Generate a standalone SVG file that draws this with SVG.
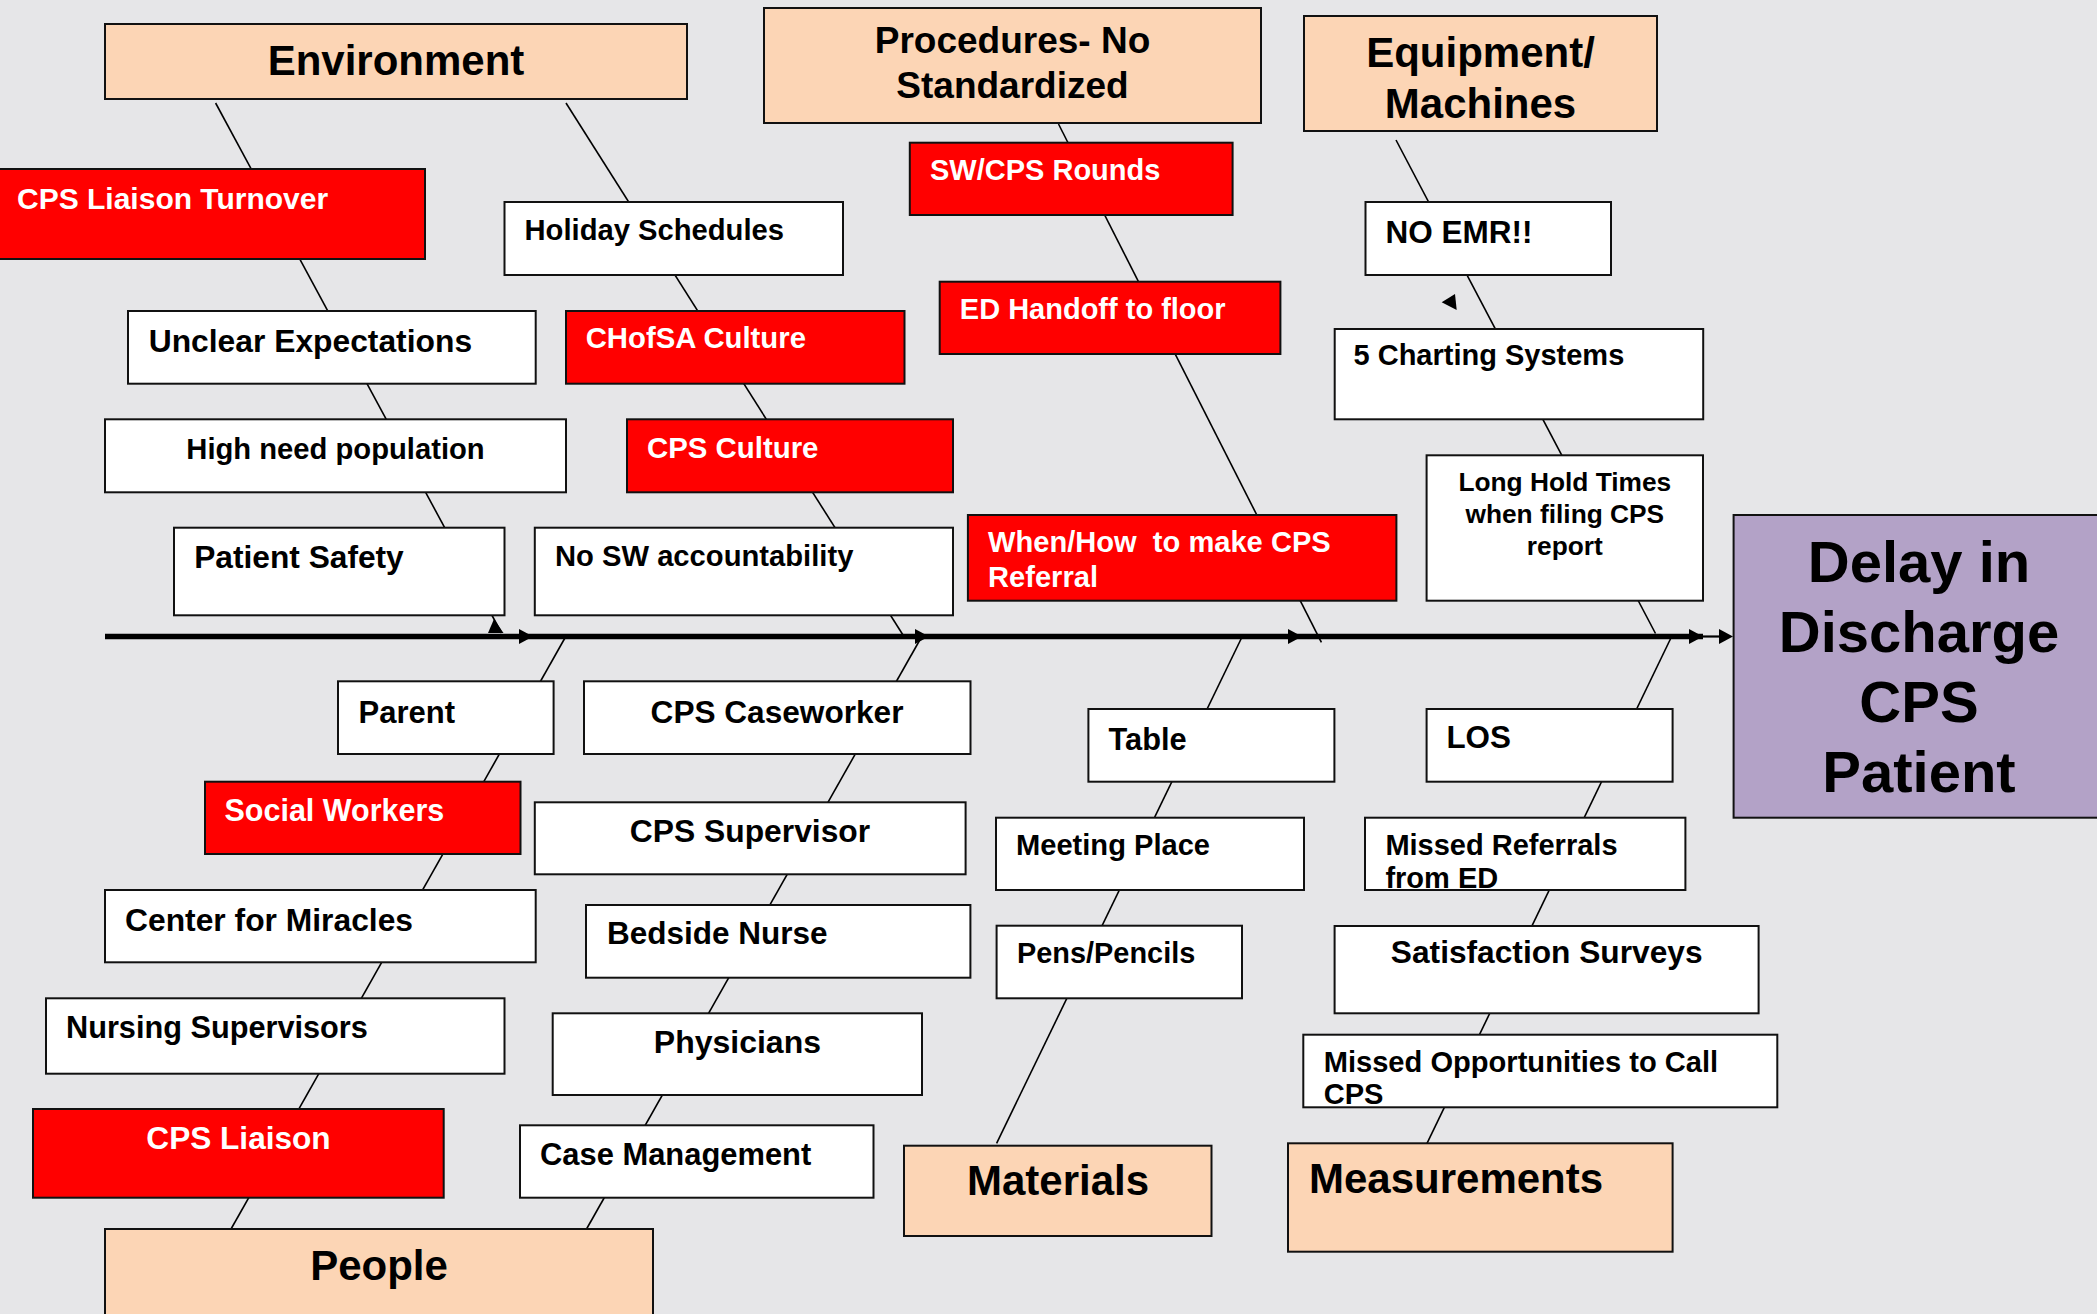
<svg xmlns="http://www.w3.org/2000/svg" width="2097" height="1314" viewBox="0 0 2097 1314">
<style>
  text { font-family: "Liberation Sans", Arial, sans-serif; font-weight: bold; }
  .box { stroke: #111; stroke-width: 2; }
  .w { fill: #FFFFFF; }
  .r { fill: #FF0000; }
  .p { fill: #FCD5B5; }
  .v { fill: #B3A2C7; }
  .tb { fill: #000; }
  .tw { fill: #FFF; }
  .c { text-anchor: middle; }
  .bone { stroke: #000; stroke-width: 1.6; fill: none; }
  .spine { stroke: #000; stroke-width: 5.5; }
  .head { fill: #000; }
</style>
<rect x="0" y="0" width="2097" height="1314" fill="#E6E6E8"/>

<g id="connectors">
  <line class="bone" x1="215.6" y1="103" x2="501.5" y2="633"/>
  <line class="bone" x1="566" y1="103" x2="903" y2="635"/>
  <line class="bone" x1="1058.5" y1="124" x2="1321.4" y2="642.3"/>
  <line class="bone" x1="1396" y1="140" x2="1655.5" y2="633.5"/>
  <line class="bone" x1="565.5" y1="637" x2="228.5" y2="1233.5"/>
  <line class="bone" x1="921.5" y1="637" x2="584" y2="1233.5"/>
  <line class="bone" x1="1242" y1="637" x2="996.6" y2="1143.3"/>
  <line class="bone" x1="1671.4" y1="637" x2="1427" y2="1143.3"/>
  <line class="spine" x1="105" y1="636.5" x2="1703" y2="636.5"/>
  <line class="bone" x1="1700" y1="636.5" x2="1722" y2="636.5" style="stroke-width:2.2"/>
  <polygon class="head" points="519,629 533,636.5 519,644"/>
  <polygon class="head" points="915,629 929,636.5 915,644"/>
  <polygon class="head" points="1288,629 1302,636.5 1288,644"/>
  <polygon class="head" points="1689,629 1703,636.5 1689,644"/>
  <polygon class="head" points="1719,629 1733,636.5 1719,644"/>
  <polygon class="head" points="488,633 503.5,633 494,619"/>
  <polygon class="head" points="1441.7,302.3 1455,294 1456.7,310"/>
</g>

<g id="environment">
  <rect class="box p" x="105" y="24" width="582" height="75"/>
  <text class="tb c" x="396" y="75" font-size="42">Environment</text>
</g>
<g id="procedures">
  <rect class="box p" x="764" y="8" width="497" height="115"/>
  <text class="tb c" x="1012.5" y="53" font-size="37">Procedures- No</text>
  <text class="tb c" x="1012.5" y="98" font-size="37">Standardized</text>
</g>
<g id="equipment">
  <rect class="box p" x="1304" y="16" width="353" height="115"/>
  <text class="tb c" x="1480.5" y="67" font-size="42">Equipment/</text>
  <text class="tb c" x="1480.5" y="118" font-size="42">Machines</text>
</g>
<g id="delay">
  <rect class="box v" x="1733.6" y="515" width="380" height="302.7"/>
  <text class="tb c" x="1919" y="581.7" font-size="58">Delay in</text>
  <text class="tb c" x="1919" y="651.7" font-size="58">Discharge</text>
  <text class="tb c" x="1919" y="721.7" font-size="58">CPS</text>
  <text class="tb c" x="1919" y="792" font-size="58">Patient</text>
</g>
<g id="people">
  <rect class="box p" x="105" y="1229" width="548" height="100"/>
  <text class="tb c" x="379" y="1280" font-size="42">People</text>
</g>
<g id="materials">
  <rect class="box p" x="904" y="1145.7" width="307.5" height="90.3"/>
  <text class="tb c" x="1058" y="1195" font-size="42">Materials</text>
</g>
<g id="measurements">
  <rect class="box p" x="1288" y="1143.3" width="384.6" height="108.4"/>
  <text class="tb" x="1309" y="1193.3" font-size="42">Measurements</text>
</g>

<g id="cps-liaison-turnover">
  <rect class="box r" x="-5" y="169" width="430" height="90"/>
  <text class="tw" x="17" y="209.3" font-size="30">CPS Liaison Turnover</text>
</g>
<g id="holiday-schedules">
  <rect class="box w" x="504.5" y="202" width="338.5" height="73"/>
  <text class="tb" x="524.5" y="240" font-size="29.2">Holiday Schedules</text>
</g>
<g id="unclear-expectations">
  <rect class="box w" x="128" y="311" width="407.7" height="72.7"/>
  <text class="tb" x="148.7" y="351.7" font-size="31.8">Unclear Expectations</text>
</g>
<g id="chofsa-culture">
  <rect class="box r" x="566" y="311" width="338.5" height="72.7"/>
  <text class="tw" x="585.7" y="348" font-size="29.3">CHofSA Culture</text>
</g>
<g id="high-need-population">
  <rect class="box w" x="105" y="419.3" width="461" height="73"/>
  <text class="tb c" x="335.5" y="458.5" font-size="29.2">High need population</text>
</g>
<g id="cps-culture">
  <rect class="box r" x="627" y="419.3" width="326" height="73"/>
  <text class="tw" x="647" y="458" font-size="29.4">CPS Culture</text>
</g>
<g id="patient-safety">
  <rect class="box w" x="174" y="527.7" width="330.5" height="87.6"/>
  <text class="tb" x="194.2" y="568.3" font-size="31.7">Patient Safety</text>
</g>
<g id="no-sw-accountability">
  <rect class="box w" x="534.8" y="527.7" width="418.2" height="87.6"/>
  <text class="tb" x="555" y="566" font-size="29.2">No SW accountability</text>
</g>
<g id="sw-cps-rounds">
  <rect class="box r" x="909.8" y="142.7" width="322.8" height="72.3"/>
  <text class="tw" x="930" y="180" font-size="29">SW/CPS Rounds</text>
</g>
<g id="ed-handoff">
  <rect class="box r" x="939.7" y="281.7" width="340.7" height="72.3"/>
  <text class="tw" x="959.8" y="319.3" font-size="29">ED Handoff to floor</text>
</g>
<g id="when-how">
  <rect class="box r" x="967.9" y="515" width="428.5" height="85.7"/>
  <text class="tw" x="988" y="551.7" font-size="29.1" xml:space="preserve">When/How  to make CPS</text>
  <text class="tw" x="988" y="587.3" font-size="29.1">Referral</text>
</g>
<g id="no-emr">
  <rect class="box w" x="1365.5" y="202" width="245.5" height="73"/>
  <text class="tb" x="1385.5" y="243" font-size="31.5">NO EMR!!</text>
</g>
<g id="charting-systems">
  <rect class="box w" x="1334.7" y="329" width="368.5" height="90.3"/>
  <text class="tb" x="1353.5" y="365" font-size="29">5 Charting Systems</text>
</g>
<g id="long-hold-times">
  <rect class="box w" x="1426.6" y="455.3" width="276.4" height="145.4"/>
  <text class="tb c" x="1564.8" y="490.7" font-size="26.3">Long Hold Times</text>
  <text class="tb c" x="1564.8" y="522.7" font-size="26.3">when filing CPS</text>
  <text class="tb c" x="1564.8" y="555" font-size="26.3">report</text>
</g>

<g id="parent">
  <rect class="box w" x="338" y="681.3" width="215.6" height="72.7"/>
  <text class="tb" x="358.5" y="722.7" font-size="31">Parent</text>
</g>
<g id="cps-caseworker">
  <rect class="box w" x="584" y="681.3" width="386.5" height="72.7"/>
  <text class="tb c" x="777" y="722.7" font-size="31.6">CPS Caseworker</text>
</g>
<g id="social-workers">
  <rect class="box r" x="205" y="781.7" width="315.5" height="72.3"/>
  <text class="tw" x="224.5" y="820.7" font-size="30.5">Social Workers</text>
</g>
<g id="cps-supervisor">
  <rect class="box w" x="534.8" y="802.3" width="430.8" height="72"/>
  <text class="tb c" x="750" y="841.7" font-size="31.8">CPS Supervisor</text>
</g>
<g id="center-for-miracles">
  <rect class="box w" x="105" y="890" width="430.7" height="72.3"/>
  <text class="tb" x="125" y="930.7" font-size="31.8">Center for Miracles</text>
</g>
<g id="bedside-nurse">
  <rect class="box w" x="586" y="905" width="384.4" height="72.7"/>
  <text class="tb" x="607" y="944.3" font-size="31.5">Bedside Nurse</text>
</g>
<g id="nursing-supervisors">
  <rect class="box w" x="46" y="998.3" width="458.5" height="75.4"/>
  <text class="tb" x="66" y="1038.3" font-size="30.7">Nursing Supervisors</text>
</g>
<g id="physicians">
  <rect class="box w" x="552.7" y="1013.3" width="369.3" height="81.7"/>
  <text class="tb c" x="737.4" y="1053.3" font-size="32">Physicians</text>
</g>
<g id="cps-liaison">
  <rect class="box r" x="33" y="1109" width="410.7" height="88.7"/>
  <text class="tw c" x="238.5" y="1149.3" font-size="31.6">CPS Liaison</text>
</g>
<g id="case-management">
  <rect class="box w" x="520" y="1125.3" width="353.5" height="72.4"/>
  <text class="tb" x="540" y="1165" font-size="30.9">Case Management</text>
</g>

<g id="table">
  <rect class="box w" x="1088.4" y="709" width="246" height="72.7"/>
  <text class="tb" x="1108.5" y="750" font-size="30.8">Table</text>
</g>
<g id="meeting-place">
  <rect class="box w" x="996" y="817.7" width="308" height="72.3"/>
  <text class="tb" x="1016" y="855" font-size="29.1">Meeting Place</text>
</g>
<g id="pens-pencils">
  <rect class="box w" x="996.6" y="925.7" width="245.4" height="72.6"/>
  <text class="tb" x="1017" y="962.7" font-size="28.9">Pens/Pencils</text>
</g>

<g id="los">
  <rect class="box w" x="1426.6" y="709" width="246" height="72.7"/>
  <text class="tb" x="1446.4" y="748.3" font-size="31.4">LOS</text>
</g>
<g id="missed-referrals">
  <rect class="box w" x="1365" y="817.7" width="320.4" height="72.3"/>
  <text class="tb" x="1385.4" y="855" font-size="29">Missed Referrals</text>
  <text class="tb" x="1385.4" y="888.3" font-size="29">from ED</text>
</g>
<g id="satisfaction-surveys">
  <rect class="box w" x="1334.6" y="926" width="424" height="87.3"/>
  <text class="tb c" x="1546.7" y="963.3" font-size="31.7">Satisfaction Surveys</text>
</g>
<g id="missed-opportunities">
  <rect class="box w" x="1303.3" y="1034.7" width="474" height="72.6"/>
  <text class="tb" x="1323.7" y="1071.7" font-size="29.1">Missed Opportunities to Call</text>
  <text class="tb" x="1323.7" y="1104" font-size="29.1">CPS</text>
</g>
</svg>
